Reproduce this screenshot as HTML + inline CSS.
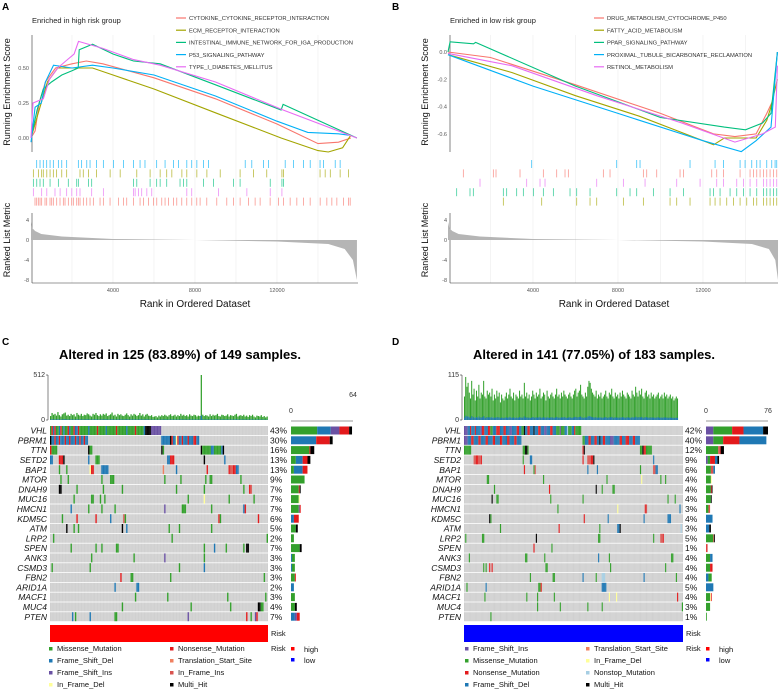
<!DOCTYPE html>
<html><head><meta charset="utf-8"><style>
html,body{margin:0;padding:0;background:#fff;}
svg text{font-family:"Liberation Sans",sans-serif;}
</style></head><body>
<svg id="fig" width="779" height="693" viewBox="0 0 779 693" xmlns="http://www.w3.org/2000/svg">
<g id="static">
<text x="2" y="10" font-size="10" font-weight="bold">A</text>
<text x="392" y="10" font-size="10" font-weight="bold">B</text>
<text x="2" y="345" font-size="10" font-weight="bold">C</text>
<text x="392" y="345" font-size="10" font-weight="bold">D</text>
<text x="32" y="23" font-size="7.5" fill="#222">Enriched in high risk group</text>
<text x="450" y="23" font-size="7.5" fill="#222">Enriched in low risk group</text>
<text x="180" y="359" font-size="13" font-weight="bold" text-anchor="middle">Altered in 125 (83.89%) of 149 samples.</text>
<text x="594" y="359" font-size="13" font-weight="bold" text-anchor="middle">Altered in 141 (77.05%) of 183 samples.</text>
</g>
</svg>
<script>
// ---------------- GSEA data ----------------
const namesA = ["CYTOKINE_CYTOKINE_RECEPTOR_INTERACTION","ECM_RECEPTOR_INTERACTION","INTESTINAL_IMMUNE_NETWORK_FOR_IGA_PRODUCTION","P53_SIGNALING_PATHWAY","TYPE_I_DIABETES_MELLITUS"];
const namesB = ["DRUG_METABOLISM_CYTOCHROME_P450","FATTY_ACID_METABOLISM","PPAR_SIGNALING_PATHWAY","PROXIMAL_TUBULE_BICARBONATE_RECLAMATION","RETINOL_METABOLISM"];
const colorsGsea = ["#f8766d","#a3a500","#00bf7d","#00b0f6","#e76bf3"];
const xTicksGsea = [4000,8000,12000];
const esTicksA = [0.5,0.25,0];
const esTickLabelsA = ["0.50","0.25","0.00"];
const esTicksB = [0,-0.2,-0.4,-0.6];
const esTickLabelsB = ["0.0","-0.2","-0.4","-0.6"];
const metricTicks = [4,0,-4,-8];

const esA_cyto = [[0,0],[200,0.05],[400,0.25],[700,0.40],[1200,0.50],[2000,0.53],[2700,0.55],[3500,0.53],[6000,0.43],[9000,0.28],[12000,0.10],[14000,-0.04],[15000,-0.03],[15600,0.0]];
const esA_ecm = [[0,0],[300,0.15],[800,0.40],[1300,0.50],[2000,0.50],[3000,0.50],[4000,0.45],[6000,0.35],[9000,0.18],[12200,0.0],[14000,-0.09],[14500,-0.10],[15200,-0.07],[15600,0.02]];
const esA_iga = [[0,0],[300,0.20],[600,0.35],[1000,0.40],[1500,0.45],[2000,0.48],[2300,0.50],[2350,0.63],[3000,0.67],[4000,0.60],[5000,0.55],[6300,0.53],[9000,0.38],[12200,0.20],[12300,0.24],[15900,0.0]];
const esA_p53 = [[0,-0.03],[200,0.22],[500,0.25],[700,0.40],[1100,0.52],[2000,0.50],[3000,0.52],[4000,0.50],[6000,0.45],[9000,0.30],[12000,0.12],[13500,0.04],[15000,0.03],[15500,0.02]];
const esA_t1d = [[0,0],[100,0.25],[600,0.28],[900,0.42],[1300,0.50],[1700,0.55],[2100,0.60],[2315,0.69],[3500,0.64],[5000,0.56],[6300,0.52],[9000,0.40],[12300,0.20],[15900,0.0]];

const esB_drug = [[0,0],[2000,-0.04],[6000,-0.24],[10000,-0.45],[12500,-0.60],[13500,-0.62],[14500,-0.60],[15000,-0.45],[15300,-0.35],[15500,0.0]];
const esB_fatty = [[0,-0.02],[3000,-0.15],[6000,-0.32],[9000,-0.47],[11500,-0.62],[12500,-0.68],[13000,-0.63],[14500,-0.63],[15000,-0.50],[15200,-0.40],[15500,-0.2]];
const esB_ppar = [[0,0],[100,0.075],[1200,0.06],[1300,0.07],[6000,-0.25],[10000,-0.48],[13000,-0.55],[14000,-0.57],[14800,-0.52],[15200,-0.45],[15500,0.0]];
const esB_prox = [[0,-0.02],[4000,-0.25],[8000,-0.45],[12000,-0.65],[13800,-0.73],[14500,-0.65],[15200,-0.55],[15500,0.0]];
const esB_retinol = [[0,-0.01],[3000,-0.10],[7000,-0.32],[11000,-0.52],[13500,-0.66],[14800,-0.60],[15400,-0.55],[15500,-0.1]];

const hitsA_p53 = [277,440,600,765,930,1090,1335,1500,1740,2310,2470,2720,2880,3200,3530,4020,4510,5000,5320,5560,6130,6540,6950,7190,7600,7840,8090,8410,8660,10450,10770,11340,11580,12400,12800,13290,13620,14100,14270,14840,15080];
const hitsA_ecm = [115,360,520,600,770,930,1090,1250,1500,1740,2390,2550,2800,3200,3860,4350,5160,5810,6300,6620,6870,7360,7600,8090,8580,9230,10200,10850,11500,12240,12320,14100,14350,14600,15080,15490];
const hitsA_iga = [115,280,440,600,930,1335,1820,2230,2310,2800,2960,5000,5160,5810,6130,6300,6620,7270,7440,7600,8410,8900,9880,10200,11670,12240,12320];
const hitsA_t1d = [115,520,770,1170,1420,1740,1990,2230,2390,2960,3530,5000,5080,5240,5400,5650,5890,7600,7840,9150,10530,11670,12240];
const hitsA_cyto = [195,277,358,440,520,683,765,927,1009,1090,1253,1415,1578,1660,1822,1985,2066,2229,2310,2392,2554,2717,2880,3042,3368,3530,3856,4263,4507,4669,4995,5320,5483,5727,5971,6134,6378,6540,6703,6947,7110,7354,7598,7842,8086,8249,8574,9062,9550,9876,10201,10608,10933,11177,11665,12072,12316,12642,12967,13292,13618,14106,14431,14675,14919,15245,15489,15570];

const hitsB_prox = [3938,7939,8880,9037,11390,12568,12960,13745,13980,14294,14529,14686,15000,15235,15392,15470];
const hitsB_drug = [722,2134,2259,3389,4487,5115,5507,5664,7311,7625,9194,9351,9822,10920,11077,12411,12646,12960,13745,14215,14372,14529,14686,14843,15000,15157,15313,15470];
const hitsB_retinol = [1506,3703,4330,4566,6998,8253,9273,10763,11862,12646,12960,13588,13902,14215,14529,14843,15000,15157,15313,15470];
const hitsB_ppar = [408,1035,1192,2604,2761,3232,3546,4017,4487,4958,5742,6056,6684,7939,8566,8880,9665,10450,11077,12332,12489,12803,13274,13588,13902,14215,14529,14843,15000,15157,15313,15470];
const hitsB_fatty = [2604,4409,6056,6684,6998,8253,9194,10450,10763,11390,12332,12568,12803,13117,13431,13745,14058,14372,14529,14843,15000,15157,15313,15470];

const metricA = [[0,3.6],[60,2.4],[200,1.8],[500,1.2],[1500,0.7],[4000,0.2],[8000,0],[12000,-0.3],[14500,-0.8],[15300,-1.8],[15700,-4],[15900,-8]];
const metricB = [[0,3.6],[60,2.4],[200,1.8],[500,1.2],[1500,0.7],[4000,0.2],[8000,0],[12000,-0.3],[14300,-0.8],[15100,-1.8],[15400,-4],[15530,-8]];

// ---------------- Oncoplot data ----------------
const genes = ["VHL","PBRM1","TTN","SETD2","BAP1","MTOR","DNAH9","MUC16","HMCN1","KDM5C","ATM","LRP2","SPEN","ANK3","CSMD3","FBN2","ARID1A","MACF1","MUC4","PTEN"];
const typeNames = ["Missense_Mutation","Frame_Shift_Del","Frame_Shift_Ins","In_Frame_Del","Nonsense_Mutation","Translation_Start_Site","In_Frame_Ins","Multi_Hit","Nonstop_Mutation"];
const typeColors = ["#33a02c","#1f78b4","#6a51a3","#ffff99","#e31a1c","#f08060","#d9534f","#000000","#a6cee3"];

const pctC = ["43%","30%","16%","13%","13%","9%","7%","7%","7%","6%","5%","2%","7%","3%","3%","3%","2%","3%","4%","7%"];
const pctD = ["42%","40%","12%","9%","6%","4%","4%","4%","3%","4%","3%","5%","1%","4%","4%","4%","5%","4%","3%","1%"];

const runsC = [
 [[0,1,0],[1,2,4],[2,3,1],[3,4,4],[4,6,0],[6,7,1],[7,8,4],[8,9,0],[9,10,1],[10,12,0],[12,13,4],[13,14,1],[14,16,0],[16,17,4],[17,19,1],[19,20,4],[20,26,0],[26,27,1],[27,32,0],[32,33,4],[33,38,0],[38,39,1],[39,45,0],[45,46,4],[46,52,0],[52,53,1],[53,58,0],[58,59,4],[59,64,0],[64,65,1],[65,69,7],[69,76,2]],
 [[0,1,7],[1,3,1],[3,4,4],[4,6,1],[6,7,4],[7,10,1],[10,11,4],[11,13,1],[13,14,4],[14,17,1],[17,18,4],[18,20,1],[20,21,4],[21,23,1],[23,24,4],[24,26,1],[76,82,1],[82,83,7],[83,84,4],[84,86,1],[86,87,3],[87,88,4],[88,90,1],[90,91,4],[91,94,1],[94,95,4],[95,98,1],[98,100,4],[100,102,1]],
 [[0,1,4],[1,5,0],[26,27,7],[27,29,0],[76,77,7],[77,78,0],[103,104,7],[104,110,0],[110,112,1],[112,117,0],[117,118,1],[118,119,7]],
 [[0,2,1],[6,9,4],[9,10,7],[26,27,1],[31,34,0],[80,82,1],[82,85,4],[105,106,7],[119,120,1]],
 [[6,7,0],[11,12,0],[27,28,3],[28,30,4],[35,40,1],[77,78,5],[86,87,1],[107,108,4],[122,123,4],[123,125,6],[125,127,4],[127,129,1]],
 [[7,8,0],[12,13,0],[35,36,0],[41,44,0],[78,79,0],[89,90,0],[106,107,0],[109,111,0],[130,131,0]],
 [[6,8,7],[18,19,0],[36,37,0],[49,50,0],[86,87,0],[105,106,0],[132,133,0],[136,137,4],[137,138,6]],
 [[16,17,0],[28,30,0],[34,35,0],[37,38,0],[94,95,0],[105,106,3],[122,123,0],[139,140,0]],
 [[14,15,1],[26,27,0],[35,36,0],[44,45,0],[78,79,2],[90,93,0],[110,111,0],[132,133,1],[133,134,4]],
 [[8,9,0],[18,19,4],[31,32,4],[41,42,1],[50,51,6],[51,52,0],[115,116,4],[116,117,0],[142,143,4]],
 [[11,12,7],[16,17,0],[19,20,0],[49,50,7],[52,53,1],[81,82,0],[88,89,0],[110,111,0]],
 [[2,3,0],[83,84,0],[148,149,0]],
 [[14,15,0],[31,32,0],[35,36,0],[45,47,0],[105,106,0],[112,113,1],[120,121,0],[132,133,0],[134,136,7]],
 [[28,29,0],[57,58,0],[78,79,2],[105,106,0]],
 [[1,2,0],[27,28,0],[88,89,0],[105,106,1]],
 [[48,49,4],[55,57,0],[82,83,0],[146,147,0]],
 [[44,45,1],[59,61,1]],
 [[58,59,0],[80,81,0],[121,122,0],[147,148,0]],
 [[49,50,0],[96,97,0],[123,124,0],[142,144,7],[144,146,0]],
 [[15,16,1],[17,18,0],[27,28,1],[44,46,0],[94,95,2],[134,135,4],[137,138,0],[140,141,2],[141,142,4]]
];
const runsD = [
 [[0,3,2],[3,5,1],[5,6,4],[6,9,1],[9,10,4],[10,14,1],[14,15,2],[15,17,4],[17,20,1],[20,22,4],[22,24,0],[24,27,1],[27,30,4],[30,33,1],[33,35,4],[35,38,1],[38,40,2],[40,44,1],[44,46,4],[46,48,1],[48,50,0],[50,51,7],[51,53,1],[53,55,4],[55,58,1],[58,59,7],[59,62,1],[62,64,4],[64,67,1],[67,69,2],[69,72,1],[72,74,4],[74,77,1],[77,80,0],[80,81,2],[81,84,0],[84,86,1],[86,87,8],[87,90,0],[90,92,1],[92,93,4],[93,98,0]],
 [[0,3,2],[3,6,1],[6,8,4],[8,12,1],[12,14,4],[14,18,1],[18,20,4],[20,24,1],[24,26,4],[26,30,1],[30,32,4],[32,36,1],[36,38,4],[38,42,1],[42,44,4],[44,48,1],[99,101,0],[101,104,1],[104,106,4],[106,109,1],[109,111,4],[111,113,1],[113,114,7],[114,116,1],[116,118,4],[118,122,1],[122,125,2],[125,130,1],[130,132,4],[132,135,1],[135,138,4],[138,141,1],[141,143,4],[143,147,1]],
 [[0,6,0],[49,51,0],[51,53,7],[53,54,0],[99,100,4],[100,101,7],[147,149,0],[149,150,7],[150,152,4],[152,157,0]],
 [[8,10,6],[10,12,4],[12,14,6],[14,15,4],[49,50,0],[55,57,1],[99,100,4],[103,106,6],[106,108,4],[108,109,7],[158,159,1]],
 [[50,51,4],[58,59,0],[59,60,6],[103,104,1],[111,112,1],[147,148,0],[158,160,6],[160,162,1]],
 [[19,21,0],[66,67,0],[119,120,0],[148,149,3],[164,165,0],[168,169,0]],
 [[25,26,0],[71,72,4],[110,111,7],[115,116,0],[124,126,0]],
 [[23,24,7],[27,29,0],[72,73,0],[99,100,0],[170,171,0],[176,177,0]],
 [[78,79,0],[128,129,3],[151,152,4],[152,153,6],[180,181,1]],
 [[21,22,7],[22,23,0],[100,101,4],[120,121,1],[150,151,1],[170,173,1]],
 [[30,31,0],[79,80,4],[113,114,0],[128,130,1],[130,131,7],[181,182,8]],
 [[1,2,0],[15,17,0],[60,61,7],[112,114,0],[158,159,0],[164,166,6],[166,167,4]],
 [[58,59,4],[73,74,0]],
 [[4,5,0],[51,53,0],[67,68,0],[112,113,1],[121,122,0],[173,175,0]],
 [[16,17,0],[18,19,0],[21,22,4],[23,24,4],[68,70,0],[122,123,0],[168,169,0]],
 [[55,56,0],[74,76,0],[99,100,1],[110,111,0],[115,118,8],[150,151,1],[177,178,0]],
 [[2,3,0],[18,19,1],[62,64,0],[64,65,4],[115,119,1]],
 [[17,18,0],[52,53,0],[61,62,0],[75,76,0],[121,122,3],[127,128,3],[178,179,4]],
 [[61,62,0],[80,81,0],[103,104,0],[115,116,0],[182,183,0]],
 [[22,23,0]]
];
const barsC = [
 [[0,27],[1,14],[2,9],[4,10],[7,3]],[[1,26],[4,14],[7,3]],[[0,19],[4,1],[7,4]],[[0,5],[1,7],[4,5],[7,3]],[[0,3],[1,9],[4,5]],
 [[0,14]],[[0,8],[4,1],[7,1]],[[0,8],[3,1]],[[0,8],[2,1],[4,1]],[[1,3],[4,5]],
 [[0,5],[7,2]],[[0,3]],[[0,9],[7,2]],[[1,1],[0,3]],[[1,1],[0,3]],
 [[0,4],[4,1]],[[1,3]],[[0,4]],[[0,4],[7,2]],[[1,4],[2,2],[4,3]]
];
const barsD = [
 [[2,9],[0,23],[4,14],[1,24],[7,6]],[[2,9],[0,12],[4,20],[1,33]],[[0,15],[6,2],[4,1],[7,4]],[[2,2],[0,3],[4,6],[1,3],[7,2]],[[0,6],[6,3],[1,2]],
 [[0,6],[3,1]],[[0,6],[4,1],[7,1]],[[0,6],[7,1]],[[0,3],[6,2]],[[1,8]],
 [[1,4],[7,2]],[[0,9],[6,1],[7,1]],[[4,1],[6,1]],[[0,5],[1,3]],[[0,5],[4,3]],
 [[1,3],[0,4]],[[1,9]],[[0,5],[3,1],[4,1]],[[0,5]],[[0,1]]
];
const tmbC = [45,80,60,70,50,90,55,40,65,75,85,50,60,45,70,55,65,40,80,60,50,70,45,60,55,75,65,50,40,70,60,80,55,45,65,50,70,60,75,45,55,65,85,50,60,40,70,55,65,50,45,60,75,55,40,65,50,70,60,45,55,80,50,65,40,60,70,50,45,55,35,40,45,30,50,40,55,45,60,50,40,55,65,45,50,60,40,55,45,70,50,60,45,55,40,65,50,45,60,55,40,50,45,512,60,45,55,50,40,65,45,60,50,55,70,45,40,60,55,45,50,65,40,55,50,45,60,70,40,50,55,45,60,40,50,35,55,45,60,40,30,50,45,40,55,35,45,30,40];
const tmbD = [60,110,85,95,70,55,100,65,80,50,75,60,90,55,70,65,100,60,55,75,65,70,60,80,50,65,55,75,60,70,45,65,55,50,60,70,55,65,80,60,55,70,50,65,60,55,75,60,65,55,95,60,70,55,65,50,60,75,65,55,70,60,65,80,55,60,70,65,50,75,60,55,65,70,60,55,65,80,60,65,55,70,60,75,65,60,55,65,70,60,55,65,75,80,60,70,75,90,65,60,55,70,60,85,100,95,80,70,65,60,75,55,65,60,70,55,60,65,75,60,55,70,65,80,60,55,70,60,65,55,70,60,75,65,60,55,70,65,60,55,75,65,60,85,70,60,75,65,80,60,55,70,75,60,65,55,70,60,65,55,60,65,70,55,60,65,55,70,60,65,55,60,65,55,60,50,55,60,55];
const legendC = [0,4,1,5,2,6,3,7];
const legendD = [2,5,0,3,4,8,1,7];

// ---------------- Drawing ----------------
const svg = document.getElementById('fig');
const NS = 'http://www.w3.org/2000/svg';
function mk(tag, attrs, parent){ const e=document.createElementNS(NS,tag); for(const k in attrs) e.setAttribute(k,attrs[k]); (parent||svg).appendChild(e); return e; }
function txt(x,y,s,size,anchor,parent,extra){ const t=mk('text',Object.assign({x:x,y:y,'font-size':size,'text-anchor':anchor||'start'},extra||{}),parent); t.textContent=s; return t; }

function gsea(cfg){
  const g = mk('g',{});
  
  
  const xs = r => cfg.x0 + r*cfg.kx;
  const ys = v => cfg.esZero - v*cfg.ky;
  const ym = m => 240 - m*5;
  // grid
  [2000,4000,6000,8000,10000,12000,14000].forEach(r=>{
    const gl = mk('line',{x1:xs(r),x2:xs(r),y1:35,y2:283,stroke:'#ececec','stroke-width':0.6},g);
    
    
  });
  // axes
  mk('line',{x1:cfg.axX,x2:cfg.axX,y1:35,y2:152,stroke:'#333','stroke-width':0.6},g);
  mk('line',{x1:cfg.axX,x2:cfg.axX,y1:213,y2:283,stroke:'#333','stroke-width':0.6},g);
  mk('line',{x1:cfg.axX,x2:cfg.xEnd,y1:283,y2:283,stroke:'#333','stroke-width':0.6},g);
  cfg.esTicks.forEach((v,i)=>{ const t=txt(cfg.axX-3,ys(v)+2,cfg.esLabels[i],5.5,'end',g,{fill:'#555'});   });
  metricTicks.forEach(m=>{ const t=txt(cfg.axX-3,ym(m)+2,String(m),5.5,'end',g,{fill:'#555'});   });
  xTicksGsea.forEach(r=>{ const t=txt(xs(r),292,String(r),5.5,'middle',g,{fill:'#555'});   });
  const xt = txt((cfg.axX+cfg.xEnd)/2,307,'Rank in Ordered Dataset',10,'middle',g,{fill:'#111'});
   
  const y1 = txt(0,0,'Running Enrichment Score',9,'middle',g,{fill:'#111',transform:'translate('+(cfg.axX-22)+',92) rotate(-90)'});
   
  const y2 = txt(0,0,'Ranked List Metric',9,'middle',g,{fill:'#111',transform:'translate('+(cfg.axX-22)+',240) rotate(-90)'});
   
  // metric area
  let d='M'+xs(0)+','+ym(0);
  cfg.metric.forEach(p=>{ d+=' L'+xs(p[0]).toFixed(1)+','+ym(p[1]).toFixed(1); });
  d+=' L'+xs(cfg.metric[cfg.metric.length-1][0])+','+ym(0)+'Z';
  const ar = mk('path',{d:d,fill:'#b5b5b5',stroke:'none'},g);
   
  // hits
  cfg.hits.forEach((h,ri)=>{
    const y0 = 160 + ri*9.4;
    h.arr.forEach(r=>{
      const l = mk('line',{x1:xs(r),x2:xs(r),y1:y0,y2:y0+8,stroke:colorsGsea[h.c],'stroke-width':0.8,opacity:0.75},g);
      
      
    });
  });
  // curves
  cfg.series.forEach((s,i)=>{
    const pts = s.map(p=>xs(p[0]).toFixed(1)+','+ys(p[1]).toFixed(1)).join(' ');
    const pl = mk('polyline',{points:pts,fill:'none',stroke:colorsGsea[i],'stroke-width':1.1},g);
    
    
  });
  // legend
  cfg.names.forEach((n,i)=>{
    const y = 18 + i*12.2;
    const ll = mk('line',{x1:cfg.legX,x2:cfg.legX+10,y1:y,y2:y,stroke:colorsGsea[i],'stroke-width':1.2},g);
     
    const lt = txt(cfg.legX+13,y+2.2,n,5.8,'start',g,{fill:'#333'});
     
  });
}
gsea({id:'a',x0:31,kx:82/4000,esZero:138,ky:140,axX:32,xEnd:358,esTicks:esTicksA,esLabels:esTickLabelsA,
  series:[esA_cyto,esA_ecm,esA_iga,esA_p53,esA_t1d],names:namesA,legX:176,metric:metricA,
  hits:[{arr:hitsA_p53,c:3},{arr:hitsA_ecm,c:1},{arr:hitsA_iga,c:2},{arr:hitsA_t1d,c:4},{arr:hitsA_cyto,c:0}]});
gsea({id:'b',x0:448,kx:85/4000,esZero:52,ky:136.5,axX:450,xEnd:778,esTicks:esTicksB,esLabels:esTickLabelsB,
  series:[esB_drug,esB_fatty,esB_ppar,esB_prox,esB_retinol],names:namesB,legX:594,metric:metricB,
  hits:[{arr:hitsB_prox,c:3},{arr:hitsB_drug,c:0},{arr:hitsB_retinol,c:4},{arr:hitsB_ppar,c:2},{arr:hitsB_fatty,c:1}]});

function onco(cfg){
  const g = mk('g',{});
  
  
  const cw = (cfg.x1-cfg.x0)/cfg.n;
  const top=426, rh=9.8;
  // TMB axis
  mk('line',{x1:cfg.x0-2,x2:cfg.x0-2,y1:375,y2:420,stroke:'#333','stroke-width':0.6},g);
  mk('line',{x1:cfg.x0-4,x2:cfg.x0-2,y1:375,y2:375,stroke:'#333','stroke-width':0.6},g);
  mk('line',{x1:cfg.x0-4,x2:cfg.x0-2,y1:420,y2:420,stroke:'#333','stroke-width':0.6},g);
  let t=txt(cfg.x0-5,377,String(cfg.tmbMax),7,'end',g,{fill:'#333'});  
  t=txt(cfg.x0-5,422,'0',7,'end',g,{fill:'#333'});  
  cfg.tmb.forEach((v,i)=>{
    const h = Math.min(v,cfg.tmbMax)/cfg.tmbMax*45;
    const b = mk('rect',{x:cfg.x0+i*cw,y:420-h,width:cw*0.85,height:h,fill:'#33a02c'},g);
    
    
    const hb = h*0.1;
    mk('rect',{x:cfg.x0+i*cw,y:420-hb,width:cw*0.85,height:hb,fill:'#1f78b4'},g);
  });
  // grid
  genes.forEach((gn,r)=>{
    const y = top + r*rh;
    const bg = mk('rect',{x:cfg.x0,y:y,width:cfg.x1-cfg.x0,height:rh-0.8,fill:'#d0d0d0'},g);
     
    const lab = txt(cfg.x0-3,y+7.6,gn,8.5,'end',g,{'font-style':'italic',fill:'#111'});
     
    const pc = txt(cfg.x1+2,y+7.6,cfg.pct[r],8.5,'start',g,{fill:'#111'});
     
    cfg.runs[r].forEach(run=>{
      const c = mk('rect',{x:cfg.x0+run[0]*cw,y:y,width:(run[1]-run[0])*cw,height:rh-0.8,fill:typeColors[run[2]]},g);
      
      
    });
    // right bar
    let bx = cfg.bx0;
    cfg.bars[r].forEach(seg=>{
      const w = seg[1]*cfg.bk;
      const s = mk('rect',{x:bx,y:y+0.5,width:w,height:rh-1.8,fill:typeColors[seg[0]]},g);
      
      
      bx += w;
    });
  });
  // column separators
  for(let i=1;i<cfg.n;i++){
    mk('line',{x1:cfg.x0+i*cw,x2:cfg.x0+i*cw,y1:top,y2:top+20*rh,stroke:'#ffffff','stroke-width':0.15,opacity:0.6},g);
  }
  // right bar axis
  mk('line',{x1:cfg.bx0,x2:cfg.bx0+cfg.bMax*cfg.bk,y1:421,y2:421,stroke:'#333','stroke-width':0.6},g);
  t=txt(cfg.bx0,cfg.bZeroY,'0',7,'middle',g,{fill:'#333'});  
  t=txt(cfg.bx0+cfg.bMax*cfg.bk,cfg.bMaxY,String(cfg.bMax),7,'middle',g,{fill:'#333'});  
  // risk bar
  const rk = mk('rect',{x:cfg.x0,y:625,width:cfg.x1-cfg.x0,height:17,fill:cfg.riskColor},g);
   
  t=txt(cfg.x1+3,636,'Risk',7.5,'start',g,{fill:'#111'});  
  // legend
  cfg.legend.forEach((ti,k)=>{
    const col = k%2, row = Math.floor(k/2);
    const lx = col===0?cfg.lx1:cfg.lx2, ly = 651+row*12;
    const sq = mk('rect',{x:lx,y:ly-4,width:3.5,height:3.5,fill:typeColors[ti]},g);
     
    const lt = txt(lx+8,ly,typeNames[ti],7.5,'start',g,{fill:'#111'});
     
  });
  t=txt(cfg.rx,ly0=651,'Risk',7.5,'start',g,{fill:'#111'});  
  mk('rect',{x:cfg.rx+20,y:647,width:3.5,height:3.5,fill:'#ff0000'},g);
  t=txt(cfg.rx+33,652,'high',7.5,'start',g,{fill:'#111'});  
  mk('rect',{x:cfg.rx+20,y:658,width:3.5,height:3.5,fill:'#0000ff'},g);
  t=txt(cfg.rx+33,663,'low',7.5,'start',g,{fill:'#111'});  
}
onco({id:'c',x0:50,x1:268,n:149,tmb:tmbC,tmbMax:512,pct:pctC,runs:runsC,bars:barsC,bx0:291,bk:62/64,bMax:64,bZeroY:413,bMaxY:397,riskColor:'#ff0000',legend:legendC,lx1:49,lx2:170,rx:271});
onco({id:'d',x0:464,x1:683,n:183,tmb:tmbD,tmbMax:115,pct:pctD,runs:runsD,bars:barsD,bx0:706,bk:62/76,bMax:76,bZeroY:413,bMaxY:413,riskColor:'#0000ff',legend:legendD,lx1:465,lx2:586,rx:686});
</script>
</body></html>
